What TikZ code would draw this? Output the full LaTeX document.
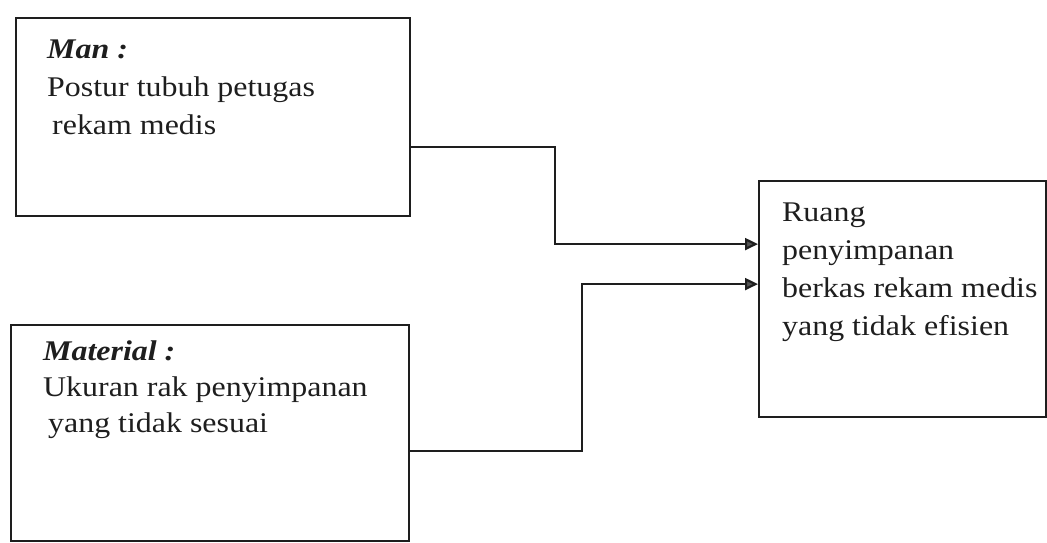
\documentclass[tikz,border=0pt]{standalone}
\usepackage{fontspec}
\setmainfont{Liberation Serif}[FakeStretch=1.12]
\usetikzlibrary{arrows.meta,positioning}
\definecolor{inkline}{RGB}{30,30,30}
\definecolor{tipgray}{RGB}{85,85,85}

\begin{document}
\begin{tikzpicture}[x=1pt, y=-1pt,
  >={Triangle[length=13pt,width=12pt,fill=tipgray]},
  box/.style={draw=inkline, line width=2.2pt, inner sep=0pt, anchor=north west},
  boxtext/.style={anchor=north west, align=left, inner sep=0pt, text=inkline},
  link/.style={draw=inkline, line width=2.2pt}]

\useasboundingbox (0,0) rectangle (1047,543);

% cause boxes (left)
\node[box, minimum width=394pt, minimum height=198pt] (man) at (15,17) {};
\node[box, minimum width=398pt, minimum height=216pt] (material) at (10,324) {};

% effect box (right)
\node[box, minimum width=287pt, minimum height=236pt] (ruang) at (758,180) {};

% texts
\node[boxtext, font=\fontsize{28.5}{38}\selectfont] (mantext) at (47,40)
  {\textbf{\textit{Man :}}\\Postur tubuh petugas\\\hspace{5pt}rekam medis};
\node[boxtext, font=\fontsize{28.5}{36}\selectfont] (materialtext) at (43,341)
  {\textbf{\textit{Material :}}\\Ukuran rak penyimpanan\\\hspace{5pt}yang tidak sesuai};
\node[boxtext, font=\fontsize{28.5}{38}\selectfont] (ruangtext) at (782,203)
  {Ruang\\penyimpanan\\berkas rekam medis\\yang tidak efisien};

% connectors
\draw[link,->] ([yshift=-30pt]man.east) -- ++(144,0) |- ([yshift=55pt]ruang.west);
\draw[link,->] ([yshift=-18pt]material.east) -- ++(172,0) |- ([yshift=15pt]ruang.west);

\end{tikzpicture}
\end{document}
